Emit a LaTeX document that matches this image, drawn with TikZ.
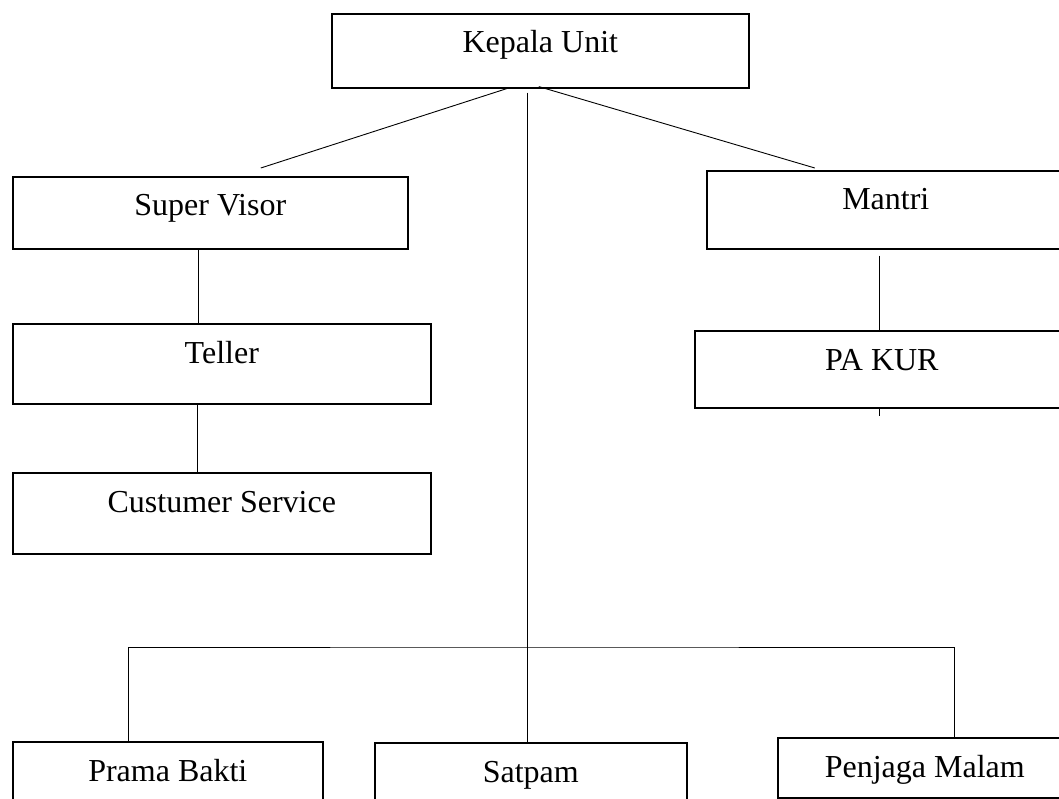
\documentclass[tikz,border=0pt]{standalone}
\usepackage{fontspec}
\setmainfont{Liberation Serif}
\begin{document}
\begin{tikzpicture}[x=1pt, y=-1pt,
		unit/.style={draw, line width=1.6pt, inner sep=0pt, anchor=north west},
		txt/.style={anchor=base, yshift=-40pt, inner sep=0pt, font=\fontsize{32}{38}\selectfont},
		link/.style={line width=0.9pt}]
				\useasboundingbox (0,0) rectangle (1059,799);
				\clip (0,0) rectangle (1059,799);
				%Cajas
				\node[unit, minimum width=417pt, minimum height=74pt, label={[txt]north:Kepala Unit}] (kepala) at (331,13) {};
				\node[unit, minimum width=395pt, minimum height=72pt, label={[txt]north:Super Visor}] (spv) at (12,176) {};
				\node[unit, minimum width=358pt, minimum height=78pt, label={[txt]north:Mantri}] (mantri) at (706,170) {};
				\node[unit, minimum width=418pt, minimum height=80pt, label={[txt]north:Teller}] (teller) at (12,323) {};
				\node[unit, minimum width=418pt, minimum height=81pt, label={[txt]north:Custumer Service}] (cs) at (12,472) {};
				\node[unit, minimum width=374pt, minimum height=77pt, label={[txt]north:PA KUR}] (pakur) at (694,330) {};
				\node[unit, minimum width=310pt, minimum height=70pt, label={[txt]north:Prama Bakti}] (prama) at (12,741) {};
				\node[unit, minimum width=312pt, minimum height=70pt, label={[txt]north:Satpam}] (satpam) at (374,742) {};
				\node[unit, minimum width=294pt, minimum height=60pt, label={[txt]north:Penjaga Malam}] (penjaga) at (777,737) {};
				%Lineas
				\draw[link] ([xshift=-33.5pt]kepala.south) -- ([xshift=50.5pt, yshift=8pt]spv.north);
				\draw[link] ([xshift=-1.5pt, yshift=2pt]kepala.south) -- ([xshift=-71pt, yshift=2pt]mantri.north);
				\draw[link] ([xshift=-12.5pt, yshift=-4pt]kepala.south) -- ([xshift=-12.5pt]kepala.south |- satpam.north);
				\draw[link] ([xshift=-11.5pt]spv.south) -- ([xshift=-11.5pt]spv.south |- teller.north);
				\draw[link] ([xshift=-24pt]teller.south) -- ([xshift=-24pt]teller.south |- cs.north);
				\draw[link] ([xshift=-6.5pt, yshift=-6pt]mantri.south) -- ([xshift=-6.5pt, yshift=-2pt]mantri.south |- pakur.north);
				\draw[link] ([xshift=-2pt]pakur.south) -- ++(0,7);
				%Bawah
				\coordinate (bus) at (527.5,647);
				\draw[link] ([xshift=-39pt]prama.north) |- (bus) -| ([xshift=30pt]penjaga.north);
\end{tikzpicture}
\end{document}
